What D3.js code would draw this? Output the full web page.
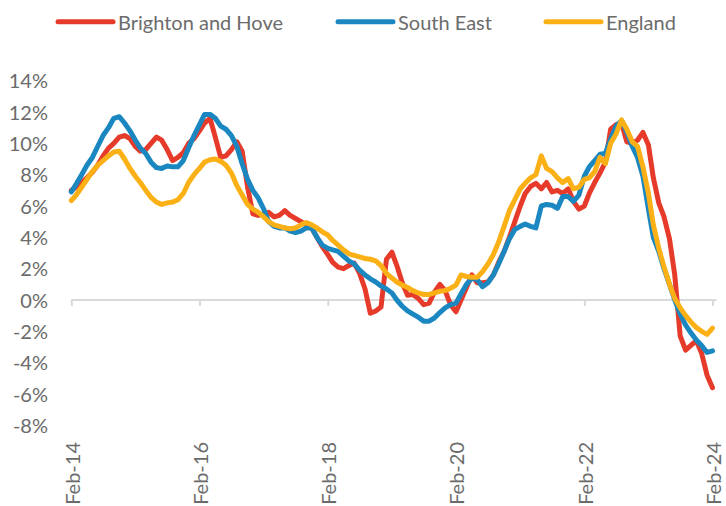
<!DOCTYPE html>
<html>
<head>
<meta charset="utf-8">
<script src="https://cdn.jsdelivr.net/npm/d3@7"></script>
<style>
  html, body { margin: 0; padding: 0; background: #fff; }
  svg { display: block; font-family: Lato, "Open Sans", sans-serif; }
</style>
</head>
<body>
<svg id="chart" width="726" height="506"></svg>
<script>
// ---- data (monthly, Feb-2014 .. Feb-2024), annual % change ----
const startMonth = "2014-02";
const seriesNames = ["Brighton and Hove", "South East", "England"];
const seriesColors = ["#E63B2A", "#1B87C1", "#FBB116"];

const brighton = [
  7.0, 7.2, 7.5, 7.8, 8.15, 8.6, 9.2, 9.7, 10.0, 10.4,
  10.5, 10.3, 9.8, 9.5, 9.6, 10.0, 10.4, 10.2, 9.6, 8.9,
  9.1, 9.4, 10.0, 10.3, 10.8, 11.3, 11.6, 10.4, 9.1, 9.2,
  9.6, 10.1, 9.5, 7.2, 5.5, 5.4, 5.5, 5.6, 5.3, 5.4,
  5.7, 5.4, 5.2, 5.0, 4.8, 4.6, 4.0, 3.4, 2.9, 2.4,
  2.1, 2.0, 2.2, 2.35, 1.7, 0.7, -0.85, -0.7, -0.45, 2.6,
  3.05, 2.2, 1.1, 0.3, 0.35, 0.1, -0.3, -0.2, 0.5, 1.0,
  0.6, -0.3, -0.75, 0.0, 0.8, 1.6, 1.1, 1.1, 1.15, 1.6,
  2.4, 3.1, 4.0, 5.0, 6.0, 6.8, 7.25, 7.45, 7.1, 7.5,
  6.9, 7.0, 6.8, 7.1, 6.3, 5.8, 6.0, 6.8, 7.5, 8.1,
  8.8, 10.9, 11.2, 11.3, 10.1, 10.0, 10.2, 10.7, 9.9, 7.8,
  6.2, 5.3, 3.9, 1.6, -2.3, -3.2, -2.9, -2.6, -3.4, -4.8,
  -5.6
];
const southEast = [
  6.9, 7.4, 8.0, 8.6, 9.1, 9.8, 10.5, 11.0, 11.6, 11.7,
  11.3, 10.8, 10.2, 9.7, 9.35, 8.8, 8.45, 8.4, 8.55, 8.5,
  8.5, 8.9, 9.7, 10.5, 11.2, 11.85, 11.85, 11.6, 11.1, 10.9,
  10.5, 9.8, 8.7, 7.7, 7.0, 6.5, 5.8, 5.0, 4.7, 4.6,
  4.6, 4.4, 4.3, 4.4, 4.6, 4.6, 4.0, 3.5, 3.3, 3.2,
  3.1, 2.8, 2.5, 2.3, 1.9, 1.6, 1.35, 1.15, 0.9, 0.7,
  0.45, 0.0, -0.4, -0.7, -0.9, -1.1, -1.35, -1.35, -1.15, -0.8,
  -0.5, -0.3, -0.2, 0.4, 1.0, 1.4, 1.3, 0.85, 1.1, 1.6,
  2.3, 3.1, 3.9, 4.5, 4.7, 4.85, 4.7, 4.6, 6.0, 6.1,
  6.05, 5.85, 6.6, 6.6, 6.3, 6.7, 7.9, 8.5, 8.9, 9.3,
  9.35, 10.3, 11.1, 11.45, 10.7, 9.8, 9.1, 7.9, 5.8, 4.0,
  3.1, 2.0, 1.0, 0.0, -0.9, -1.6, -2.1, -2.55, -2.9, -3.35,
  -3.25
];
const england = [
  6.35, 6.7, 7.2, 7.7, 8.2, 8.6, 8.9, 9.2, 9.45, 9.5,
  9.0, 8.4, 7.9, 7.5, 7.0, 6.55, 6.25, 6.1, 6.2, 6.25,
  6.4, 6.8, 7.5, 8.0, 8.4, 8.8, 8.95, 9.0, 8.85, 8.6,
  8.1, 7.3, 6.7, 6.1, 5.8, 5.6, 5.3, 5.0, 4.8, 4.7,
  4.6, 4.55, 4.6, 4.8, 4.95, 4.8, 4.6, 4.35, 4.15, 3.8,
  3.5, 3.2, 2.95, 2.85, 2.75, 2.65, 2.6, 2.5, 2.2, 1.7,
  1.4, 1.15, 0.95, 0.8, 0.6, 0.45, 0.35, 0.35, 0.45, 0.55,
  0.6, 0.75, 0.95, 1.6, 1.5, 1.45, 1.45, 1.8, 2.3, 2.9,
  3.7, 4.7, 5.7, 6.4, 7.1, 7.45, 7.8, 8.0, 9.2, 8.4,
  8.2, 7.8, 7.5, 7.75, 7.1, 7.2, 7.7, 7.8, 8.2, 9.1,
  8.7, 10.0, 10.6, 11.5, 10.9, 10.1, 9.8, 8.5, 6.8, 4.8,
  3.3, 2.1, 1.0, 0.1, -0.5, -1.0, -1.4, -1.75, -2.0, -2.2,
  -1.8
];
const yTicks = [-8, -6, -4, -2, 0, 2, 4, 6, 8, 10, 12, 14];
const xTickLabels = ["Feb-14", "Feb-16", "Feb-18", "Feb-20", "Feb-22", "Feb-24"];

// ---- build ----
const seriesValues = [brighton, southEast, england];
const parseM = d3.timeParse("%Y-%m");
const t0 = parseM(startMonth);
const months = d3.range(brighton.length).map(i => d3.timeMonth.offset(t0, i));

const svg = d3.select("#chart");
const x = d3.scaleTime()
  .domain([months[0], months[months.length - 1]])
  .range([71.3, 712.5]);
const y = d3.scaleLinear().domain([-8, 14]).range([425.3, 80.7]);

const textColor = "#6b6b6b";
const axisColor = "#d9d9d9";

// y-axis labels (no axis line in reference)
const yAxis = d3.axisLeft(y).tickValues(yTicks)
  .tickFormat(d => d + "%").tickSize(0).tickPadding(0);
const gy = svg.append("g").attr("transform", "translate(48,0)").call(yAxis);
gy.select(".domain").remove();
gy.selectAll("text")
  .attr("fill", textColor).attr("font-size", 20)
  .attr("font-family", "Lato, 'Open Sans', sans-serif")
  .attr("dy", "0.36em");

// x-axis at y=0
const xTickDates = xTickLabels.map(s => d3.timeParse("%b-%y")(s));
const xAxis = d3.axisBottom(x).tickValues(xTickDates)
  .tickFormat(d3.timeFormat("%b-%y")).tickSizeInner(6).tickSizeOuter(0);
const gx = svg.append("g").attr("transform", `translate(0,${y(0)})`).call(xAxis);
gx.select(".domain").attr("stroke", axisColor).attr("stroke-width", 2)
  .attr("d", `M${x.range()[0]},0H${x.range()[1] + 4}`);
gx.selectAll(".tick line").attr("stroke", axisColor).attr("stroke-width", 2);
gx.selectAll(".tick text").remove();

// rotated x labels at bottom
svg.append("g").selectAll("text")
  .data(xTickDates)
  .join("text")
  .attr("transform", d => `translate(${x(d) + 8.5},442) rotate(-90)`)
  .attr("text-anchor", "end")
  .attr("font-size", 20)
  .attr("fill", textColor)
  .text(d3.timeFormat("%b-%y"));

// lines
const line = d3.line()
  .x((d, i) => x(months[i]))
  .y(d => y(d))
  .curve(d3.curveLinear);

svg.append("g").selectAll("path")
  .data(seriesValues)
  .join("path")
  .attr("d", d => line(d))
  .attr("fill", "none")
  .attr("stroke", (d, i) => seriesColors[i])
  .attr("stroke-width", 5)
  .attr("stroke-linejoin", "round")
  .attr("stroke-linecap", "round");

// legend
const legendX = [58, 338, 546];
const lg = svg.append("g").selectAll("g")
  .data(seriesNames)
  .join("g")
  .attr("transform", (d, i) => `translate(${legendX[i]},21.7)`);
lg.append("line")
  .attr("x1", 0).attr("x2", 55).attr("y1", 0).attr("y2", 0)
  .attr("stroke", (d, i) => seriesColors[i])
  .attr("stroke-width", 5).attr("stroke-linecap", "round");
lg.append("text")
  .attr("x", 60).attr("y", 8)
  .attr("font-size", 20).attr("fill", textColor)
  .text(d => d);
</script>
</body>
</html>
